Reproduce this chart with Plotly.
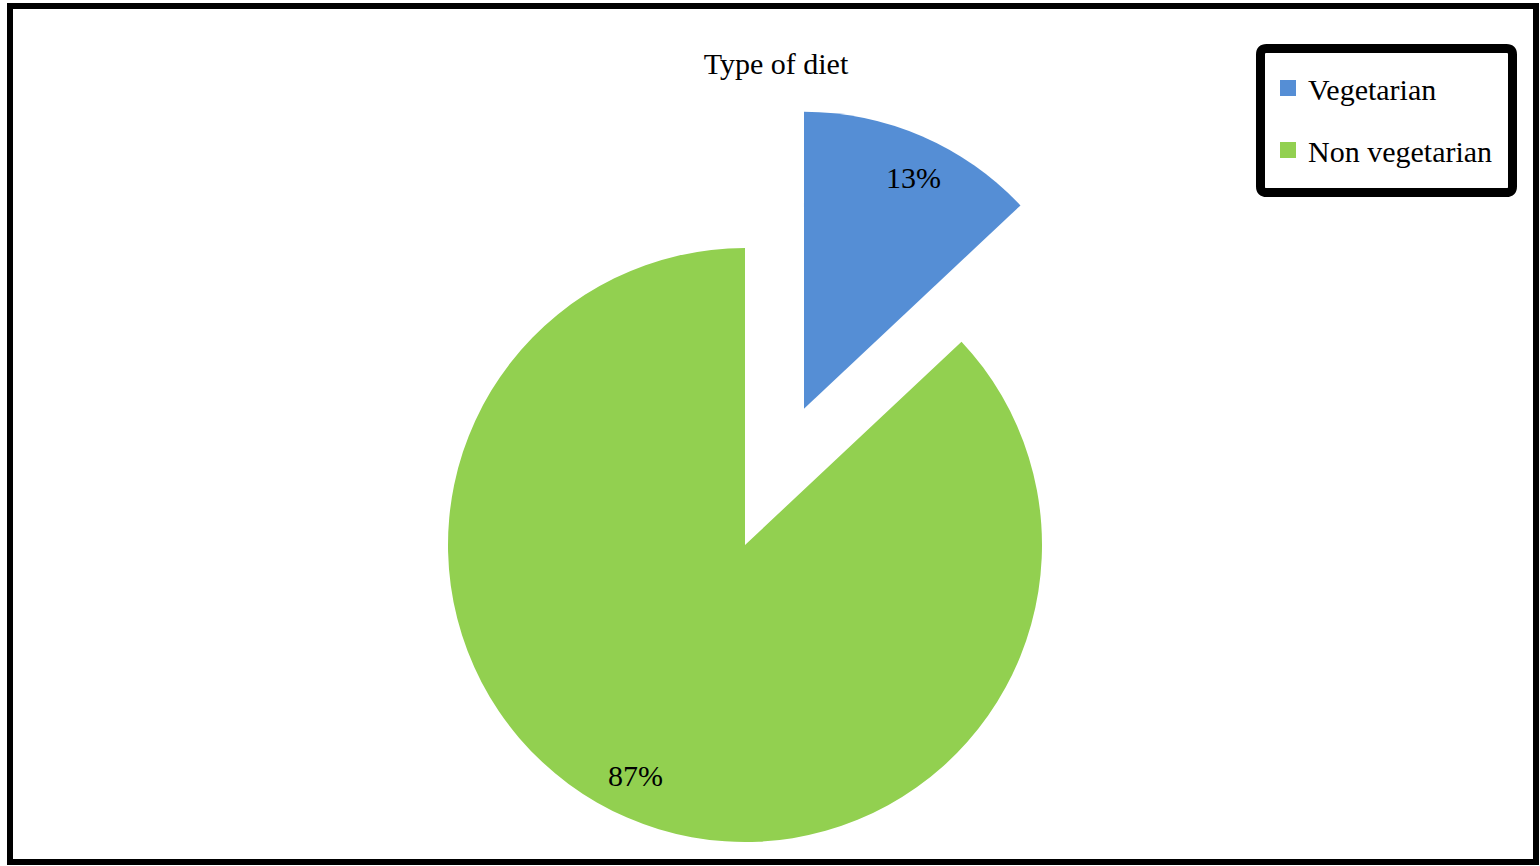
import math
import re
import plotly.graph_objects as go

# ---- data ----
categories = ["Vegetarian", "Non vegetarian"]
values = [13, 87]
colors = ["#558ED5", "#92D050"]
title_text = "Type of diet"

W, H = 1540, 866
FONT = "Liberation Serif, Times New Roman, serif"
FS = 30

# geometry of the main (unpulled) pie, in pixels
cx, cy, r = 745, 545, 297
pull = 0.5        # pull of the first slice, as fraction of radius
label_rad = 0.86  # label distance from slice apex, fraction of radius
label_shift = math.radians(2)  # small clockwise shift of label angle

total = sum(values)


def bisector(i):
    start = sum(values[:i]) / total
    return (start + values[i] / total / 2) * 2 * math.pi  # clockwise from top


a0 = bisector(0)
px = cx + pull * r * math.sin(a0)
py = cy - pull * r * math.cos(a0)
centers = [(px, py), (cx, cy)]


def dom(cxp, cyp):
    return dict(x=[(cxp - r) / W, (cxp + r) / W],
                y=[1 - (cyp + r) / H, 1 - (cyp - r) / H])


def pie_trace(show_idx):
    cols = [c if i == show_idx else "rgba(0,0,0,0)" for i, c in enumerate(colors)]
    return go.Pie(
        labels=categories, values=values, sort=False, direction="clockwise",
        rotation=0, marker=dict(colors=cols, line=dict(width=0)),
        textinfo="none", domain=dom(*centers[show_idx]),
        showlegend=False, hoverinfo="skip",
    )


fig = go.Figure()
fig.add_trace(pie_trace(1))
fig.add_trace(pie_trace(0))

# percentage labels placed along each slice bisector
annotations = []
for i, v in enumerate(values):
    a = bisector(i) + label_shift
    ccx, ccy = centers[i]
    lx = ccx + label_rad * r * math.sin(a)
    ly = ccy - label_rad * r * math.cos(a)
    annotations.append(dict(x=lx / W, y=1 - ly / H, xref="paper", yref="paper",
                            text=f"{round(100 * v / total)}%", showarrow=False,
                            xanchor="center", yanchor="middle",
                            font=dict(family=FONT, size=FS, color="black")))

# legend entries
for i, (name, c) in enumerate(zip(categories, colors)):
    fig.add_trace(go.Scatter(x=[None], y=[None], mode="markers", name=name,
                             legendgroup=f"g{i}", hoverinfo="skip",
                             marker=dict(symbol="square", size=18, color=c)))

# legend box (rounded rectangle), pixel coordinates
bx0, bx1, by0, by1, rr = 1260.5, 1512.5, 48.5, 192.5, 6
path = (f"M{bx0 + rr},{by0} L{bx1 - rr},{by0} Q{bx1},{by0} {bx1},{by0 + rr} "
        f"L{bx1},{by1 - rr} Q{bx1},{by1} {bx1 - rr},{by1} "
        f"L{bx0 + rr},{by1} Q{bx0},{by1} {bx0},{by1 - rr} "
        f"L{bx0},{by0 + rr} Q{bx0},{by0} {bx0 + rr},{by0} Z")


def to_paper(p):
    def conv(m):
        x, y = float(m.group(1)), float(m.group(2))
        return f"{x / W:.6f},{1 - y / H:.6f}"
    return re.sub(r"([\d.]+),([\d.]+)", conv, p)


fig.update_layout(
    width=W, height=H,
    margin=dict(l=0, r=0, t=0, b=0),
    paper_bgcolor="white", plot_bgcolor="white",
    xaxis=dict(visible=False), yaxis=dict(visible=False),
    hovermode=False,
    title=dict(text=title_text, x=776 / W, y=1 - 63 / H, xanchor="center", yanchor="middle",
               xref="paper", yref="paper",
               font=dict(family=FONT, size=FS, color="black")),
    legend=dict(x=1268 / W, y=1 - 62 / H, xanchor="left", yanchor="top",
                font=dict(family=FONT, size=FS, color="black"),
                borderwidth=0, bgcolor="rgba(0,0,0,0)",
                tracegroupgap=20),
    annotations=annotations,
    shapes=[dict(type="rect", xref="paper", yref="paper",
                 x0=10 / W, x1=1536 / W, y0=1 - 862 / H, y1=1 - 6 / H,
                 line=dict(color="black", width=6)),
            dict(type="path", xref="paper", yref="paper", path=to_paper(path),
                 line=dict(color="black", width=9), fillcolor="rgba(0,0,0,0)")],
)

fig.write_html("out.html", config={"displayModeBar": False},
               post_script="document.body.style.margin='0';")
